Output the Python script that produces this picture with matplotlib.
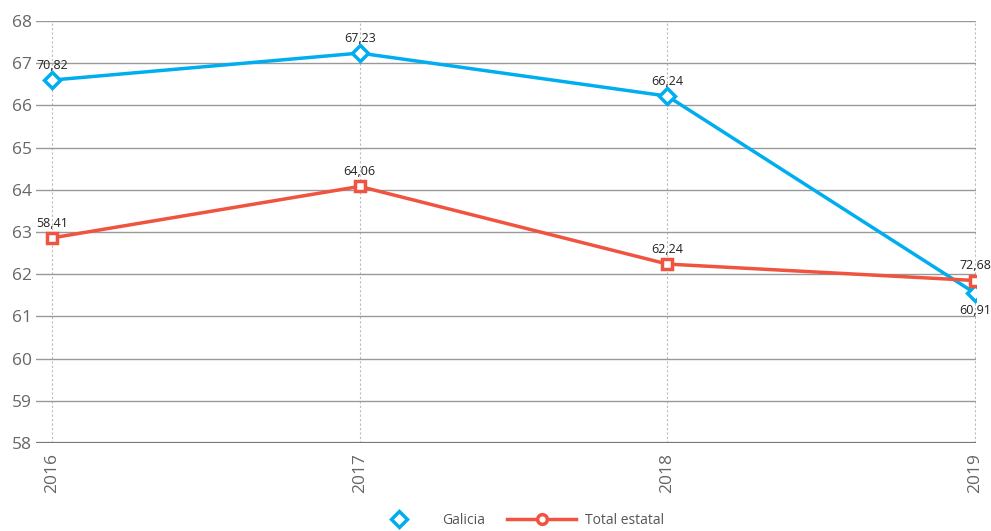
import matplotlib
matplotlib.use("Agg")
import matplotlib.pyplot as plt
from matplotlib.lines import Line2D

years = ["2016", "2017", "2018", "2019"]
galicia = [66.6, 67.24, 66.22, 61.55]
galicia_labels = ["70,82", "67,23", "66,24", "60,91"]
total = [62.86, 64.08, 62.24, 61.85]
total_labels = ["58,41", "64,06", "62,24", "72,68"]

blue = "#00aeef"
red = "#f05340"

plt.rcParams['font.family'] = ['Open Sans', 'DejaVu Sans']

fig = plt.figure(figsize=(9.91, 5.31), dpi=100)
ax = fig.add_axes([36/991, (531-443)/531, 940/991, 422/531])

xs = list(range(len(years)))
ax.plot(xs, galicia, color=blue, lw=2.5, marker="D", ms=8, mfc="white",
        mec=blue, mew=2.5, zorder=3)
ax.plot(xs, total, color=red, lw=2.5, marker="s", ms=7.5, mfc="white",
        mec=red, mew=2.5, zorder=3)

for i in xs:
    off = -8 if i == 3 else 6
    va = "top" if i == 3 else "bottom"
    ax.annotate(galicia_labels[i], (i, galicia[i]), xytext=(0, off),
                textcoords="offset points", ha="center", va=va, fontsize=9,
                color="#222222")
    ax.annotate(total_labels[i], (i, total[i]), xytext=(0, 6),
                textcoords="offset points", ha="center", va="bottom", fontsize=9,
                color="#222222")

ax.set_ylim(58, 68)
ax.set_xlim(-0.052, 3.003)
ax.set_yticks(range(58, 69))
ax.set_xticks(xs)
ax.set_xticklabels(years, rotation=90)
ax.tick_params(axis="both", length=0, labelsize=12.5, colors="#666666")
ax.tick_params(axis="y", pad=3)
ax.tick_params(axis="x", pad=7)

ax.grid(axis="y", color="#999999", lw=1)
ax.grid(axis="x", color="#bbbbbb", lw=0.8, ls=(0, (2, 2)))
ax.axhline(58, color="#777777", lw=1.6, zorder=2)
for s in ax.spines.values():
    s.set_visible(False)
ax.set_axisbelow(True)

handles = [
    Line2D([], [], color=blue, lw=0, marker="D", ms=8, mfc="white", mec=blue, mew=2.5),
    Line2D([], [], color=red, lw=2.5, marker="o", ms=7, mfc="white", mec=red, mew=2.5),
]
fig.legend(handles, ["Galicia", "Total estatal"], loc="center",
           bbox_to_anchor=(514/991, 1 - 520/531), ncol=2, frameon=False,
           fontsize=10, labelcolor="#555555", handlelength=5, columnspacing=1.6,
           handletextpad=0.6)

fig.savefig("out.png", dpi=100)
